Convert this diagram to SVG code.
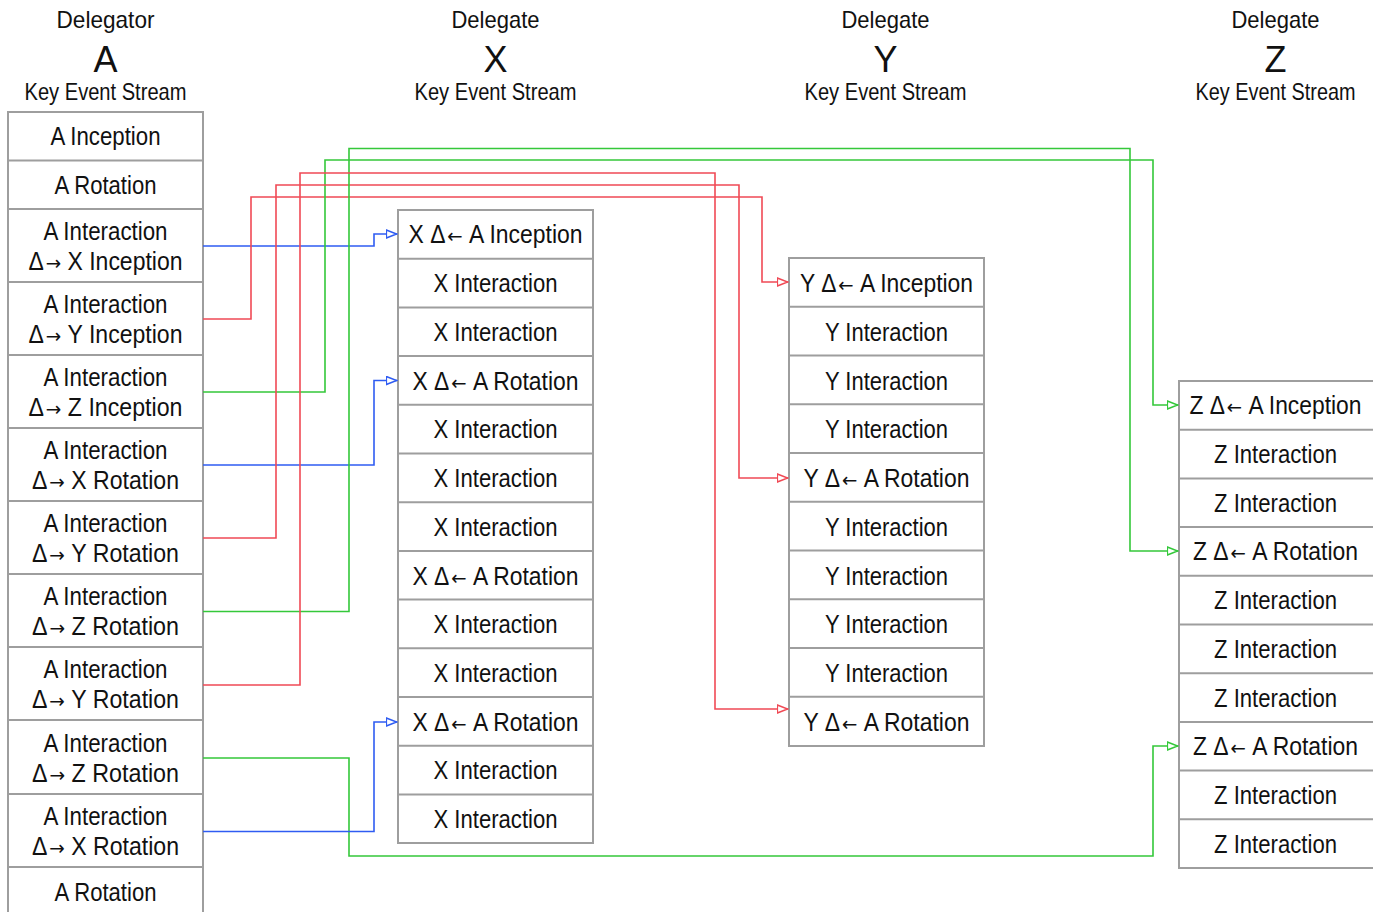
<svg xmlns="http://www.w3.org/2000/svg" width="1373" height="912" viewBox="0 0 1373 912">
  <style>
    .bg { fill: #ffffff; }
    .box { fill: #ffffff; stroke: #9e9e9e; stroke-width: 2; }
    .sep { stroke: #9e9e9e; stroke-width: 2; }
    text { font-family: "Liberation Sans", Arial, sans-serif; fill: #111111; text-anchor: middle; }
    .t { font-size: 25px; }
    .h { font-size: 24px; }
    .big { font-size: 36px; }
    .ar { font-family: "DejaVu Sans", sans-serif; font-size: 20px; }
    .conn { fill: none; stroke-width: 1.6; stroke-linejoin: miter; }
    .blue { stroke: #2f5cf2; }
    .red { stroke: #f04a55; }
    .green { stroke: #34c83a; }
  </style>
  <defs>
    <marker id="arrow-blue" viewBox="0 0 12 10" refX="11.5" refY="5" markerWidth="12" markerHeight="10" markerUnits="userSpaceOnUse" orient="auto">
      <path d="M0.8,1 L11.2,5 L0.8,9 Z" fill="#ffffff" stroke="#2f5cf2" stroke-width="1.6"/>
    </marker>
    <marker id="arrow-red" viewBox="0 0 12 10" refX="11.5" refY="5" markerWidth="12" markerHeight="10" markerUnits="userSpaceOnUse" orient="auto">
      <path d="M0.8,1 L11.2,5 L0.8,9 Z" fill="#ffffff" stroke="#f04a55" stroke-width="1.6"/>
    </marker>
    <marker id="arrow-green" viewBox="0 0 12 10" refX="11.5" refY="5" markerWidth="12" markerHeight="10" markerUnits="userSpaceOnUse" orient="auto">
      <path d="M0.8,1 L11.2,5 L0.8,9 Z" fill="#ffffff" stroke="#34c83a" stroke-width="1.6"/>
    </marker>
  </defs>

  <rect class="bg" x="0" y="0" width="1373" height="912"/>

  <!-- column headers -->
  <g id="header-a">
    <text class="h" x="105.5" y="28" textLength="98" lengthAdjust="spacingAndGlyphs">Delegator</text>
    <text class="big" x="105.5" y="72">A</text>
    <text class="h" x="105.5" y="100" textLength="162" lengthAdjust="spacingAndGlyphs">Key Event Stream</text>
  </g>
  <g id="header-x">
    <text class="h" x="495.5" y="28" textLength="88" lengthAdjust="spacingAndGlyphs">Delegate</text>
    <text class="big" x="495.5" y="72">X</text>
    <text class="h" x="495.5" y="100" textLength="162" lengthAdjust="spacingAndGlyphs">Key Event Stream</text>
  </g>
  <g id="header-y">
    <text class="h" x="885.5" y="28" textLength="88" lengthAdjust="spacingAndGlyphs">Delegate</text>
    <text class="big" x="885.5" y="72">Y</text>
    <text class="h" x="885.5" y="100" textLength="162" lengthAdjust="spacingAndGlyphs">Key Event Stream</text>
  </g>
  <g id="header-z">
    <text class="h" x="1275.5" y="28" textLength="88" lengthAdjust="spacingAndGlyphs">Delegate</text>
    <text class="big" x="1275.5" y="72">Z</text>
    <text class="h" x="1275.5" y="100" textLength="160" lengthAdjust="spacingAndGlyphs">Key Event Stream</text>
  </g>

  <!-- delegator A key event stream -->
  <g id="stream-a">
    <rect class="box" x="8" y="112" width="195" height="810"/>
    <path class="sep" d="M8,160.5H203 M8,209H203 M8,282H203 M8,355H203 M8,428H203 M8,501H203 M8,574H203 M8,647H203 M8,720H203 M8,794H203 M8,867H203"/>
    <text class="t" x="105.5" y="145" textLength="110" lengthAdjust="spacingAndGlyphs">A Inception</text>
    <text class="t" x="105.5" y="194" textLength="102" lengthAdjust="spacingAndGlyphs">A Rotation</text>

    <text class="t" x="105.5" y="240" textLength="124" lengthAdjust="spacingAndGlyphs">A Interaction</text>
    <text class="t" x="105.5" y="270" textLength="154" lengthAdjust="spacingAndGlyphs">Δ<tspan class="ar" dx="2">→</tspan> X Inception</text>

    <text class="t" x="105.5" y="313" textLength="124" lengthAdjust="spacingAndGlyphs">A Interaction</text>
    <text class="t" x="105.5" y="343" textLength="154" lengthAdjust="spacingAndGlyphs">Δ<tspan class="ar" dx="2">→</tspan> Y Inception</text>

    <text class="t" x="105.5" y="386" textLength="124" lengthAdjust="spacingAndGlyphs">A Interaction</text>
    <text class="t" x="105.5" y="416" textLength="154" lengthAdjust="spacingAndGlyphs">Δ<tspan class="ar" dx="2">→</tspan> Z Inception</text>

    <text class="t" x="105.5" y="459" textLength="124" lengthAdjust="spacingAndGlyphs">A Interaction</text>
    <text class="t" x="105.5" y="489" textLength="147" lengthAdjust="spacingAndGlyphs">Δ<tspan class="ar" dx="2">→</tspan> X Rotation</text>

    <text class="t" x="105.5" y="532" textLength="124" lengthAdjust="spacingAndGlyphs">A Interaction</text>
    <text class="t" x="105.5" y="562" textLength="147" lengthAdjust="spacingAndGlyphs">Δ<tspan class="ar" dx="2">→</tspan> Y Rotation</text>

    <text class="t" x="105.5" y="605" textLength="124" lengthAdjust="spacingAndGlyphs">A Interaction</text>
    <text class="t" x="105.5" y="635" textLength="147" lengthAdjust="spacingAndGlyphs">Δ<tspan class="ar" dx="2">→</tspan> Z Rotation</text>

    <text class="t" x="105.5" y="678" textLength="124" lengthAdjust="spacingAndGlyphs">A Interaction</text>
    <text class="t" x="105.5" y="708" textLength="147" lengthAdjust="spacingAndGlyphs">Δ<tspan class="ar" dx="2">→</tspan> Y Rotation</text>

    <text class="t" x="105.5" y="751.5" textLength="124" lengthAdjust="spacingAndGlyphs">A Interaction</text>
    <text class="t" x="105.5" y="781.5" textLength="147" lengthAdjust="spacingAndGlyphs">Δ<tspan class="ar" dx="2">→</tspan> Z Rotation</text>

    <text class="t" x="105.5" y="825" textLength="124" lengthAdjust="spacingAndGlyphs">A Interaction</text>
    <text class="t" x="105.5" y="855" textLength="147" lengthAdjust="spacingAndGlyphs">Δ<tspan class="ar" dx="2">→</tspan> X Rotation</text>

    <text class="t" x="105.5" y="900.5" textLength="102" lengthAdjust="spacingAndGlyphs">A Rotation</text>
  </g>

  <!-- delegate X key event stream -->
  <g id="stream-x">
    <rect class="box" x="398" y="210" width="195" height="633"/>
    <path class="sep" d="M398,258.7H593 M398,307.4H593 M398,356.1H593 M398,404.8H593 M398,453.5H593 M398,502.2H593 M398,550.9H593 M398,599.6H593 M398,648.3H593 M398,697H593 M398,745.7H593 M398,794.4H593"/>
    <text class="t" x="495.5" y="243" textLength="174" lengthAdjust="spacingAndGlyphs">X Δ<tspan class="ar" dx="2">←</tspan> A Inception</text>
    <text class="t" x="495.5" y="292" textLength="124" lengthAdjust="spacingAndGlyphs">X Interaction</text>
    <text class="t" x="495.5" y="341" textLength="124" lengthAdjust="spacingAndGlyphs">X Interaction</text>
    <text class="t" x="495.5" y="389.5" textLength="166" lengthAdjust="spacingAndGlyphs">X Δ<tspan class="ar" dx="2">←</tspan> A Rotation</text>
    <text class="t" x="495.5" y="438" textLength="124" lengthAdjust="spacingAndGlyphs">X Interaction</text>
    <text class="t" x="495.5" y="487" textLength="124" lengthAdjust="spacingAndGlyphs">X Interaction</text>
    <text class="t" x="495.5" y="535.5" textLength="124" lengthAdjust="spacingAndGlyphs">X Interaction</text>
    <text class="t" x="495.5" y="584.5" textLength="166" lengthAdjust="spacingAndGlyphs">X Δ<tspan class="ar" dx="2">←</tspan> A Rotation</text>
    <text class="t" x="495.5" y="633" textLength="124" lengthAdjust="spacingAndGlyphs">X Interaction</text>
    <text class="t" x="495.5" y="681.5" textLength="124" lengthAdjust="spacingAndGlyphs">X Interaction</text>
    <text class="t" x="495.5" y="730.5" textLength="166" lengthAdjust="spacingAndGlyphs">X Δ<tspan class="ar" dx="2">←</tspan> A Rotation</text>
    <text class="t" x="495.5" y="779" textLength="124" lengthAdjust="spacingAndGlyphs">X Interaction</text>
    <text class="t" x="495.5" y="828" textLength="124" lengthAdjust="spacingAndGlyphs">X Interaction</text>
  </g>

  <!-- delegate Y key event stream -->
  <g id="stream-y">
    <rect class="box" x="789" y="258" width="195" height="488"/>
    <path class="sep" d="M789,306.8H984 M789,355.5H984 M789,404.3H984 M789,453H984 M789,501.8H984 M789,550.5H984 M789,599.3H984 M789,648H984 M789,696.8H984"/>
    <text class="t" x="886.5" y="291.5" textLength="173" lengthAdjust="spacingAndGlyphs">Y Δ<tspan class="ar" dx="2">←</tspan> A Inception</text>
    <text class="t" x="886.5" y="340.5" textLength="123" lengthAdjust="spacingAndGlyphs">Y Interaction</text>
    <text class="t" x="886.5" y="389.5" textLength="123" lengthAdjust="spacingAndGlyphs">Y Interaction</text>
    <text class="t" x="886.5" y="438" textLength="123" lengthAdjust="spacingAndGlyphs">Y Interaction</text>
    <text class="t" x="886.5" y="487" textLength="166" lengthAdjust="spacingAndGlyphs">Y Δ<tspan class="ar" dx="2">←</tspan> A Rotation</text>
    <text class="t" x="886.5" y="535.5" textLength="123" lengthAdjust="spacingAndGlyphs">Y Interaction</text>
    <text class="t" x="886.5" y="584.5" textLength="123" lengthAdjust="spacingAndGlyphs">Y Interaction</text>
    <text class="t" x="886.5" y="633" textLength="123" lengthAdjust="spacingAndGlyphs">Y Interaction</text>
    <text class="t" x="886.5" y="682" textLength="123" lengthAdjust="spacingAndGlyphs">Y Interaction</text>
    <text class="t" x="886.5" y="730.5" textLength="166" lengthAdjust="spacingAndGlyphs">Y Δ<tspan class="ar" dx="2">←</tspan> A Rotation</text>
  </g>

  <!-- delegate Z key event stream -->
  <g id="stream-z">
    <rect class="box" x="1179" y="381" width="200" height="487"/>
    <path class="sep" d="M1179,429.7H1379 M1179,478.4H1379 M1179,527.1H1379 M1179,575.8H1379 M1179,624.5H1379 M1179,673.2H1379 M1179,721.9H1379 M1179,770.6H1379 M1179,819.3H1379"/>
    <text class="t" x="1275.5" y="414" textLength="172" lengthAdjust="spacingAndGlyphs">Z Δ<tspan class="ar" dx="2">←</tspan> A Inception</text>
    <text class="t" x="1275.5" y="463" textLength="123" lengthAdjust="spacingAndGlyphs">Z Interaction</text>
    <text class="t" x="1275.5" y="511.5" textLength="123" lengthAdjust="spacingAndGlyphs">Z Interaction</text>
    <text class="t" x="1275.5" y="560" textLength="165" lengthAdjust="spacingAndGlyphs">Z Δ<tspan class="ar" dx="2">←</tspan> A Rotation</text>
    <text class="t" x="1275.5" y="609" textLength="123" lengthAdjust="spacingAndGlyphs">Z Interaction</text>
    <text class="t" x="1275.5" y="658" textLength="123" lengthAdjust="spacingAndGlyphs">Z Interaction</text>
    <text class="t" x="1275.5" y="706.5" textLength="123" lengthAdjust="spacingAndGlyphs">Z Interaction</text>
    <text class="t" x="1275.5" y="755" textLength="165" lengthAdjust="spacingAndGlyphs">Z Δ<tspan class="ar" dx="2">←</tspan> A Rotation</text>
    <text class="t" x="1275.5" y="804" textLength="123" lengthAdjust="spacingAndGlyphs">Z Interaction</text>
    <text class="t" x="1275.5" y="852.5" textLength="123" lengthAdjust="spacingAndGlyphs">Z Interaction</text>
  </g>

  <!-- delegation connectors -->
  <g id="connectors">
    <path class="conn blue" d="M203,246 H374 V234 H397" marker-end="url(#arrow-blue)"/>
    <path class="conn red" d="M203,319 H251 V197 H762 V282 H788" marker-end="url(#arrow-red)"/>
    <path class="conn green" d="M203,392 H325 V160 H1153 V405 H1178" marker-end="url(#arrow-green)"/>
    <path class="conn blue" d="M203,465 H374 V380.5 H397" marker-end="url(#arrow-blue)"/>
    <path class="conn red" d="M203,538 H276 V185 H739 V478 H788" marker-end="url(#arrow-red)"/>
    <path class="conn green" d="M203,611.5 H349 V148.5 H1130 V551 H1178" marker-end="url(#arrow-green)"/>
    <path class="conn red" d="M203,685 H300 V173 H715 V709 H788" marker-end="url(#arrow-red)"/>
    <path class="conn green" d="M203,758 H349 V856 H1153 V746 H1178" marker-end="url(#arrow-green)"/>
    <path class="conn blue" d="M203,831.5 H374 V722 H397" marker-end="url(#arrow-blue)"/>
  </g>
</svg>
